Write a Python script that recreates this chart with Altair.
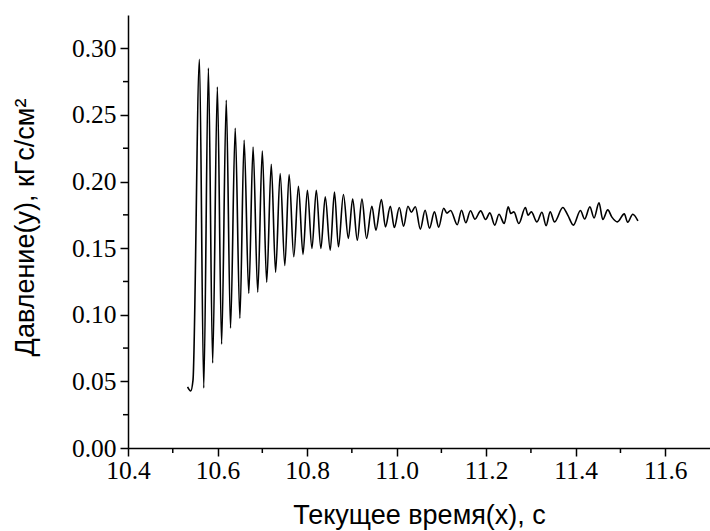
import altair as alt
import pandas as pd

# Time (s) and pressure (kgf/cm^2) read at the turning points of the recorded curve
time_s = [
    10.533, 10.540, 10.5452, 10.5596, 10.5692, 10.5796, 10.5891, 10.5996, 10.6091, 10.6195,
    10.6290, 10.6395, 10.6499, 10.6594, 10.6698, 10.6794, 10.6898, 10.7000, 10.7098, 10.7200,
    10.7297, 10.7399, 10.7503, 10.7599, 10.7703, 10.7807, 10.7909, 10.8007, 10.8109, 10.8206,
    10.8308, 10.8406, 10.8517, 10.8612, 10.8701, 10.8812, 10.8922, 10.9018, 10.9122, 10.9226,
    10.9328, 10.9448, 10.9537, 10.9661, 10.9750, 10.9860, 10.9949, 11.0060, 11.0157, 11.0253,
    11.0330, 11.0419, 11.0530, 11.0636, 11.0734, 11.0845, 11.0940, 11.1051, 11.1124, 11.1206,
    11.1355, 11.1450, 11.1545, 11.1650, 11.1750, 11.1878, 11.1989, 11.2082, 11.2193, 11.2286,
    11.2404, 11.2492, 11.2552, 11.2619, 11.2730, 11.2876, 11.2936, 11.3009, 11.3135, 11.3246,
    11.3339, 11.3430, 11.3528, 11.3712, 11.3823, 11.3949, 11.4106, 11.4200, 11.4317, 11.4410,
    11.4521, 11.4605, 11.4716, 11.4809, 11.4931, 11.5086, 11.5160, 11.5275, 11.5390,
]
pressure = [
    0.0458, 0.0428, 0.0510, 0.2918, 0.0450, 0.2852, 0.0638, 0.2710, 0.0780, 0.2610,
    0.0900, 0.2400, 0.0975, 0.2310, 0.1160, 0.2258, 0.1170, 0.2228, 0.1245, 0.2130,
    0.1320, 0.2060, 0.1370, 0.2053, 0.1435, 0.1965, 0.1453, 0.1935, 0.1498, 0.1935,
    0.1498, 0.1885, 0.1485, 0.1922, 0.1510, 0.1903, 0.1573, 0.1868, 0.1560, 0.1868,
    0.1573, 0.1815, 0.1635, 0.1865, 0.1660, 0.1815, 0.1655, 0.1805, 0.1665, 0.1815,
    0.1770, 0.1811, 0.1643, 0.1785, 0.1650, 0.1772, 0.1658, 0.1800, 0.1763, 0.1783,
    0.1676, 0.1785, 0.1691, 0.1781, 0.1718, 0.1780, 0.1715, 0.1765, 0.1673, 0.1755,
    0.1685, 0.1810, 0.1760, 0.1772, 0.1685, 0.1805, 0.1748, 0.1772, 0.1697, 0.1770,
    0.1669, 0.1772, 0.1697, 0.1805, 0.1748, 0.1673, 0.1783, 0.1719, 0.1810, 0.1727,
    0.1840, 0.1715, 0.1787, 0.1733, 0.1697, 0.1757, 0.1694, 0.1755, 0.1705,
]

x_major = [10.4, 10.6, 10.8, 11.0, 11.2, 11.4, 11.6]
x_minor = [10.5, 10.7, 10.9, 11.1, 11.3, 11.5]
y_major = [0.00, 0.05, 0.10, 0.15, 0.20, 0.25, 0.30]
y_minor = [0.025, 0.075, 0.125, 0.175, 0.225, 0.275]

x_domain = [10.4, 11.7]
y_domain = [0.0, 0.325]

LABEL_FONT = "Times New Roman, Liberation Serif, serif"
TITLE_FONT = "Arial, Liberation Sans, sans-serif"

df = pd.DataFrame({"t": time_s, "p": pressure})
df_xminor = pd.DataFrame({"t": x_minor})
df_yminor = pd.DataFrame({"p": y_minor})

xscale = alt.Scale(domain=x_domain, nice=False, zero=False)
yscale = alt.Scale(domain=y_domain, nice=False, zero=False)

common_axis = dict(
    grid=False,
    domainColor="black",
    domainWidth=1.5,
    tickColor="black",
    tickWidth=1.5,
    tickSize=8,
    labelFont=LABEL_FONT,
    labelFontSize=25.5,
    labelColor="black",
    labelFlush=False,
    labelOverlap=False,
    titleFont=TITLE_FONT,
    titleFontSize=27,
    titleFontWeight="normal",
    titleColor="black",
)

x_axis = alt.Axis(
    values=x_major,
    format=".1f",
    title="Текущее время(x), с",
    labelPadding=2,
    titleY=75,
    titleBaseline="alphabetic",
    **common_axis,
)
y_axis = alt.Axis(
    values=y_major,
    format=".2f",
    title="Давление(y), кГс/см²",
    labelPadding=4,
    titleX=-103,
    titleY=212,
    titleBaseline="middle",
    **common_axis,
)

line = alt.Chart(df).mark_line(
    color="black", strokeWidth=1.6, interpolate="monotone"
).encode(
    x=alt.X("t:Q", scale=xscale, axis=x_axis),
    y=alt.Y("p:Q", scale=yscale, axis=y_axis),
)

xminor = alt.Chart(df_xminor).mark_rule(color="black", strokeWidth=1.5).encode(
    x=alt.X("t:Q", scale=xscale, axis=x_axis),
    y=alt.value(433),
    y2=alt.value(438),
)

yminor = alt.Chart(df_yminor).mark_rule(color="black", strokeWidth=1.5).encode(
    y=alt.Y("p:Q", scale=yscale, axis=y_axis),
    x=alt.value(0),
    x2=alt.value(-5),
)

chart = alt.layer(line, xminor, yminor).properties(
    width=582,
    height=433,
    autosize=alt.AutoSizeParams(type="none"),
    padding={"left": 128, "top": 15, "right": 0, "bottom": 83},
    background="white",
).configure_view(stroke=None).configure_axis(
    labelFont=LABEL_FONT, titleFont=TITLE_FONT
)

chart.save("out.html", embed_options={"renderer": "svg", "actions": False})
